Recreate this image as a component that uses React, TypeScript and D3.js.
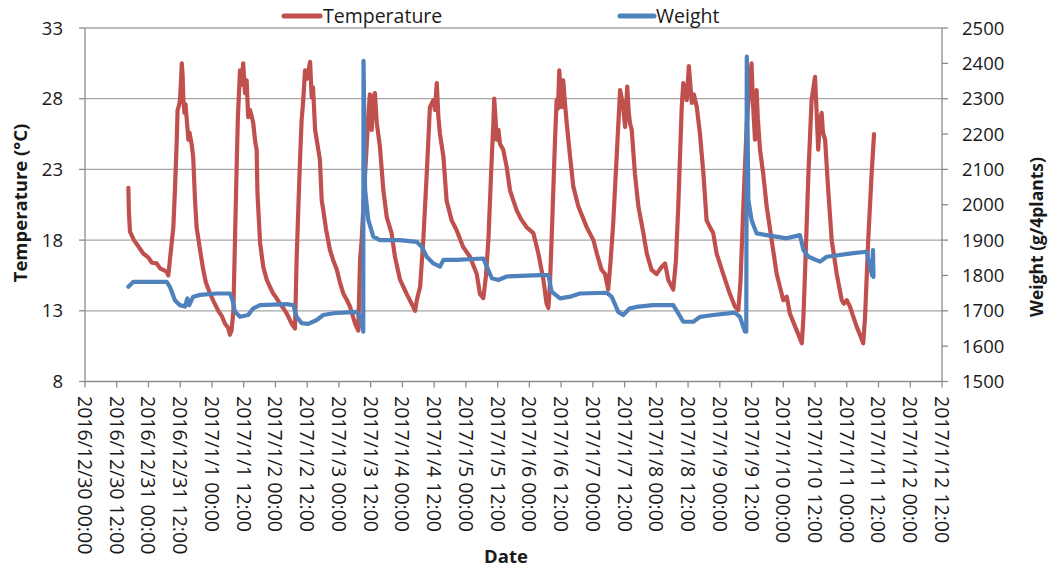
import React from "react";
import * as d3 from "d3";

// Time values are hours after 2016/12/30 00:00
const START_MS = Date.UTC(2016, 11, 30, 0, 0);
const END_HOURS = 324;

const tempHours = [
  16.4, 16.6, 17.0, 18.5, 20.0, 22.0, 23.8, 25.3, 27.1, 28.4, 29.5, 30.9, 31.5, 32.1, 33.4, 34.0, 34.7, 35.0, 35.5, 35.9,
  36.3, 36.6, 36.9, 37.2, 37.6, 38.0, 38.4, 39.1, 39.5, 40.3, 40.9, 41.6, 42.2, 43.5, 44.7, 45.7, 47.3, 48.8, 50.4, 51.8,
  52.9, 54.1, 54.8, 55.4, 56.1, 56.7, 57.4, 57.8, 58.6, 59.2, 59.8, 60.5, 61.1, 61.7, 62.4, 63.6, 64.3, 64.9, 65.2, 66.2,
  67.4, 68.7, 69.9, 71.2, 72.4, 73.7, 74.9, 76.3, 78.1, 79.4, 80.0, 80.7, 81.3, 81.9, 82.4, 83.2, 83.9, 85.1, 85.7, 86.2,
  87.0, 88.2, 88.8, 89.5, 90.1, 91.1, 92.6, 93.8, 95.2, 96.4, 97.7, 98.9, 100.2, 102.1, 103.3, 104.0, 104.6, 105.9, 107.1, 107.7,
  108.4, 109.0, 109.6, 110.3, 111.5, 112.8, 114.1, 115.9, 117.2, 119.1, 121.6, 123.5, 124.8, 125.5, 126.7, 127.9, 129.2, 130.4, 131.7, 132.3,
  133.0, 133.6, 134.2, 135.5, 136.7, 138.6, 140.5, 143.0, 145.6, 148.1, 149.3, 150.6, 151.6, 152.5, 153.8, 154.4, 154.7, 155.2, 155.6, 156.3,
  156.9, 158.1, 159.4, 160.7, 163.2, 164.8, 167.0, 169.5, 171.4, 173.3, 174.5, 175.2, 175.8, 176.4, 177.7, 178.3, 178.8, 179.3, 180.2, 180.8,
  181.5, 182.1, 183.4, 184.6, 186.5, 189.7, 192.2, 193.5, 195.3, 196.6, 197.8, 198.7, 199.7, 201.0, 202.3, 203.3, 204.2, 205.0, 205.5, 206.0,
  206.7, 207.9, 209.2, 211.1, 212.4, 214.2, 216.1, 218.0, 219.3, 220.5, 222.4, 223.4, 224.3, 225.6, 226.2, 227.5, 228.3, 229.4, 230.2, 231.3,
  232.5, 233.8, 235.0, 236.3, 237.5, 238.8, 241.3, 243.8, 245.7, 247.0, 247.8, 248.9, 250.2, 251.4, 252.0, 252.5, 253.3, 253.9, 254.4, 255.2,
  256.4, 257.7, 259.6, 261.5, 264.0, 265.3, 266.5, 269.1, 271.0, 271.6, 272.2, 273.5, 274.7, 276.0, 276.5, 277.2, 277.9, 278.5, 279.0, 279.8,
  281.0, 282.3, 284.2, 286.1, 286.9, 288.0, 289.2, 291.7, 293.0, 294.2, 294.9, 296.1, 297.4, 298.3,
];
const tempValues = [
  21.7, 20.0, 18.6, 18.0, 17.6, 17.05, 16.8, 16.4, 16.35, 16.0, 15.9, 15.75, 15.5, 16.6, 18.9, 21.5, 25.1, 27.2, 27.5, 27.9,
  29.3, 30.5, 29.7, 27.9, 27.0, 27.6, 26.7, 25.1, 25.6, 24.8, 23.9, 20.8, 18.9, 17.3, 15.9, 15.0, 14.2, 13.6, 13.0, 12.6,
  12.1, 11.8, 11.3, 11.6, 13.0, 18.0, 23.7, 26.7, 30.0, 29.0, 30.5, 28.4, 29.3, 26.7, 27.2, 26.3, 25.0, 24.4, 21.3, 17.8,
  16.1, 15.2, 14.7, 14.2, 13.9, 13.5, 13.2, 12.8, 12.1, 11.75, 16.6, 20.5, 23.7, 26.5, 27.6, 30.0, 29.4, 30.6, 28.1, 28.8,
  25.8, 24.4, 23.7, 20.8, 20.1, 18.8, 17.3, 16.6, 15.9, 15.0, 14.2, 13.8, 13.3, 12.1, 11.6, 16.6, 18.0, 22.7, 26.7, 28.3,
  25.8, 28.1, 28.4, 26.3, 24.6, 21.5, 19.6, 18.5, 16.8, 15.2, 14.2, 13.5, 13.0, 13.8, 14.7, 18.0, 22.7, 27.4, 27.9, 27.2,
  29.1, 26.7, 25.5, 23.9, 20.8, 19.4, 18.7, 17.5, 16.8, 15.6, 14.2, 13.9, 15.5, 18.0, 23.9, 26.3, 28.0, 26.6, 25.1, 25.8,
  24.8, 24.4, 23.2, 21.5, 20.1, 19.5, 18.9, 18.5, 17.05, 15.2, 13.5, 13.2, 15.0, 18.0, 25.1, 27.9, 27.3, 30.0, 27.4, 29.3,
  27.6, 26.3, 23.9, 21.8, 20.4, 18.9, 18.0, 17.05, 15.9, 15.6, 14.5, 16.5, 19.2, 23.9, 28.6, 27.7, 26.0, 28.85, 27.2, 26.3,
  25.8, 22.7, 20.4, 18.5, 17.05, 15.9, 15.6, 16.1, 16.35, 15.2, 14.5, 16.5, 20.4, 27.4, 29.1, 27.9, 30.3, 27.7, 28.3, 27.4,
  25.5, 22.7, 19.4, 18.9, 18.5, 17.05, 15.6, 14.2, 13.3, 13.05, 15.0, 20.4, 26.3, 29.3, 30.5, 27.8, 25.1, 28.6, 26.5, 24.4,
  22.7, 20.4, 18.0, 15.6, 13.75, 14.0, 12.8, 11.6, 10.7, 12.5, 15.6, 22.7, 27.9, 29.55, 27.5, 24.4, 26.5, 27.0, 25.6, 25.1,
  21.5, 18.0, 15.6, 13.75, 13.5, 13.75, 13.3, 11.9, 11.3, 10.7, 12.5, 18.0, 22.7, 25.5,
];

const weightHours = [
  16.4, 18.3, 24.6, 30.9, 32.1, 34.0, 35.9, 37.8, 38.7, 39.4, 40.9, 43.5, 49.8, 54.8, 55.8, 56.7, 58.6, 61.7, 63.6, 66.2,
  76.3, 78.8, 80.0, 81.9, 84.4, 87.6, 90.1, 93.9, 102.7, 104.0, 105.2, 105.3, 105.9, 107.1, 109.0, 111.5, 119.1, 125.4, 127.3, 129.2,
  131.7, 134.2, 135.5, 140.5, 150.6, 151.9, 153.8, 156.3, 159.4, 172.0, 175.2, 176.4, 179.6, 183.4, 187.1, 197.2, 199.1, 201.6, 203.5, 206.0,
  209.2, 214.8, 222.4, 224.3, 226.2, 230.0, 232.5, 237.5, 245.7, 247.6, 249.5, 250.0, 250.2, 250.8, 252.0, 253.9, 257.7, 265.3, 270.3, 271.6,
  273.5, 277.9, 280.4, 290.5, 295.5, 296.8, 297.6, 297.9, 298.1,
];
const weightValues = [
  1768, 1782, 1782, 1782, 1768, 1730, 1716, 1712, 1735, 1716, 1740, 1745, 1749, 1749, 1730, 1697, 1683, 1688, 1707, 1716,
  1719, 1716, 1683, 1665, 1663, 1674, 1688, 1693, 1697, 1683, 1641, 2407, 2042, 1957, 1910, 1900, 1900, 1895, 1881, 1853,
  1834, 1825, 1844, 1844, 1848, 1825, 1792, 1787, 1797, 1801, 1801, 1754, 1735, 1740, 1749, 1751, 1740, 1697, 1688, 1707,
  1712, 1716, 1716, 1693, 1669, 1669, 1683, 1688, 1695, 1683, 1641, 1641, 2419, 2013, 1957, 1919, 1914, 1905, 1914, 1872,
  1853, 1839, 1853, 1863, 1867, 1825, 1800, 1872, 1796,
];

const tempTicks = [8, 13, 18, 23, 28, 33];
const weightTicks = [1500, 1600, 1700, 1800, 1900, 2000, 2100, 2200, 2300, 2400, 2500];

const seriesNames = ["Temperature", "Weight"];
const seriesColors = ["#C0504D", "#4F81BD"];

const FONT = "'Open Sans', sans-serif";

export default function App() {
  const width = 1056;
  const height = 568;
  const left = 85;
  const right = 942;
  const top = 28;
  const bottom = 381.5;

  const toDate = (h: number) => new Date(START_MS + h * 3600 * 1000);
  const x = d3.scaleUtc().domain([toDate(0), toDate(END_HOURS)]).range([left, right]);
  const yT = d3.scaleLinear().domain([8, 33]).range([bottom, top]);
  const yW = d3.scaleLinear().domain([1500, 2500]).range([bottom, top]);

  const xTicks = d3.utcHour.every(12)!.range(toDate(0), toDate(END_HOURS + 0.01));
  const fmt = d3.utcFormat("%Y/%-m/%-d %H:%M");

  const tempPts = tempHours.map((h, i) => [h, tempValues[i]] as [number, number]);
  const weightPts = weightHours.map((h, i) => [h, weightValues[i]] as [number, number]);

  const tempLine = d3
    .line<[number, number]>()
    .x((d) => x(toDate(d[0])))
    .y((d) => yT(d[1]));
  const weightLine = d3
    .line<[number, number]>()
    .x((d) => x(toDate(d[0])))
    .y((d) => yW(d[1]));

  const gridColor = "#a6a6a6";
  const axisColor = "#8c8c8c";
  const textColor = "#1a1a1a";

  return (
    <svg
      width={width}
      height={height}
      style={{ position: "absolute", left: 0, top: 0, background: "#fff" }}
      fontFamily={FONT}
    >
      <rect x={0} y={0} width={width} height={height} fill="#fff" />
      {/* gridlines */}
      {tempTicks.slice(1).map((t) => (
        <line key={"g" + t} x1={left} x2={right} y1={yT(t)} y2={yT(t)} stroke={gridColor} strokeWidth={1.3} />
      ))}
      {/* left axis */}
      <line x1={left} x2={left} y1={top} y2={bottom} stroke={axisColor} strokeWidth={1.3} />
      {tempTicks.map((t) => (
        <g key={"lt" + t}>
          <line x1={left - 6} x2={left} y1={yT(t)} y2={yT(t)} stroke={axisColor} strokeWidth={1.3} />
          <text x={63} y={yT(t)} dy="0.36em" textAnchor="end" fontSize={18.5} fill={textColor}>
            {t}
          </text>
        </g>
      ))}
      {/* right axis */}
      <line x1={right} x2={right} y1={top} y2={bottom} stroke={axisColor} strokeWidth={1.3} />
      {weightTicks.map((t) => (
        <g key={"rt" + t}>
          <line x1={right} x2={right + 6} y1={yW(t)} y2={yW(t)} stroke={axisColor} strokeWidth={1.3} />
          <text x={962} y={yW(t)} dy="0.36em" textAnchor="start" fontSize={18.5} fill={textColor}>
            {t}
          </text>
        </g>
      ))}
      {/* bottom axis */}
      <line x1={left} x2={right} y1={bottom} y2={bottom} stroke={axisColor} strokeWidth={1.3} />
      {xTicks.map((d, i) => (
        <g key={"xt" + i}>
          <line x1={x(d)} x2={x(d)} y1={bottom} y2={bottom + 6} stroke={axisColor} strokeWidth={1.3} />
          <text
            transform={`translate(${x(d)},${396}) rotate(90)`}
            dy="0.36em"
            textAnchor="start"
            fontSize={19.5}
            fill={textColor}
          >
            {fmt(d)}
          </text>
        </g>
      ))}
      {/* series */}
      <path d={tempLine(tempPts) || ""} fill="none" stroke={seriesColors[0]} strokeWidth={4.2} strokeLinejoin="round" strokeLinecap="round" />
      <path d={weightLine(weightPts) || ""} fill="none" stroke={seriesColors[1]} strokeWidth={4.2} strokeLinejoin="round" strokeLinecap="round" />
      {/* axis titles */}
      <text transform={`translate(27,${203}) rotate(-90)`} textAnchor="middle" fontSize={18.5} fontWeight="bold" fill={textColor}>
        Temperature (°C)
      </text>
      <text transform={`translate(1043,${237}) rotate(-90)`} textAnchor="middle" fontSize={17.5} fontWeight="bold" fill={textColor}>
        Weight (g/4plants)
      </text>
      <text x={506} y={563} textAnchor="middle" fontSize={18.5} fontWeight="bold" fill={textColor}>
        Date
      </text>
      {/* legend */}
      <line x1={284} x2={320} y1={16} y2={16} stroke={seriesColors[0]} strokeWidth={5} strokeLinecap="round" />
      <text x={323} y={22.5} fontSize={19.5} fill={textColor}>
        {seriesNames[0]}
      </text>
      <line x1={620} x2={654} y1={16} y2={16} stroke={seriesColors[1]} strokeWidth={5} strokeLinecap="round" />
      <text x={656} y={22.5} fontSize={19.5} fill={textColor}>
        {seriesNames[1]}
      </text>
    </svg>
  );
}
